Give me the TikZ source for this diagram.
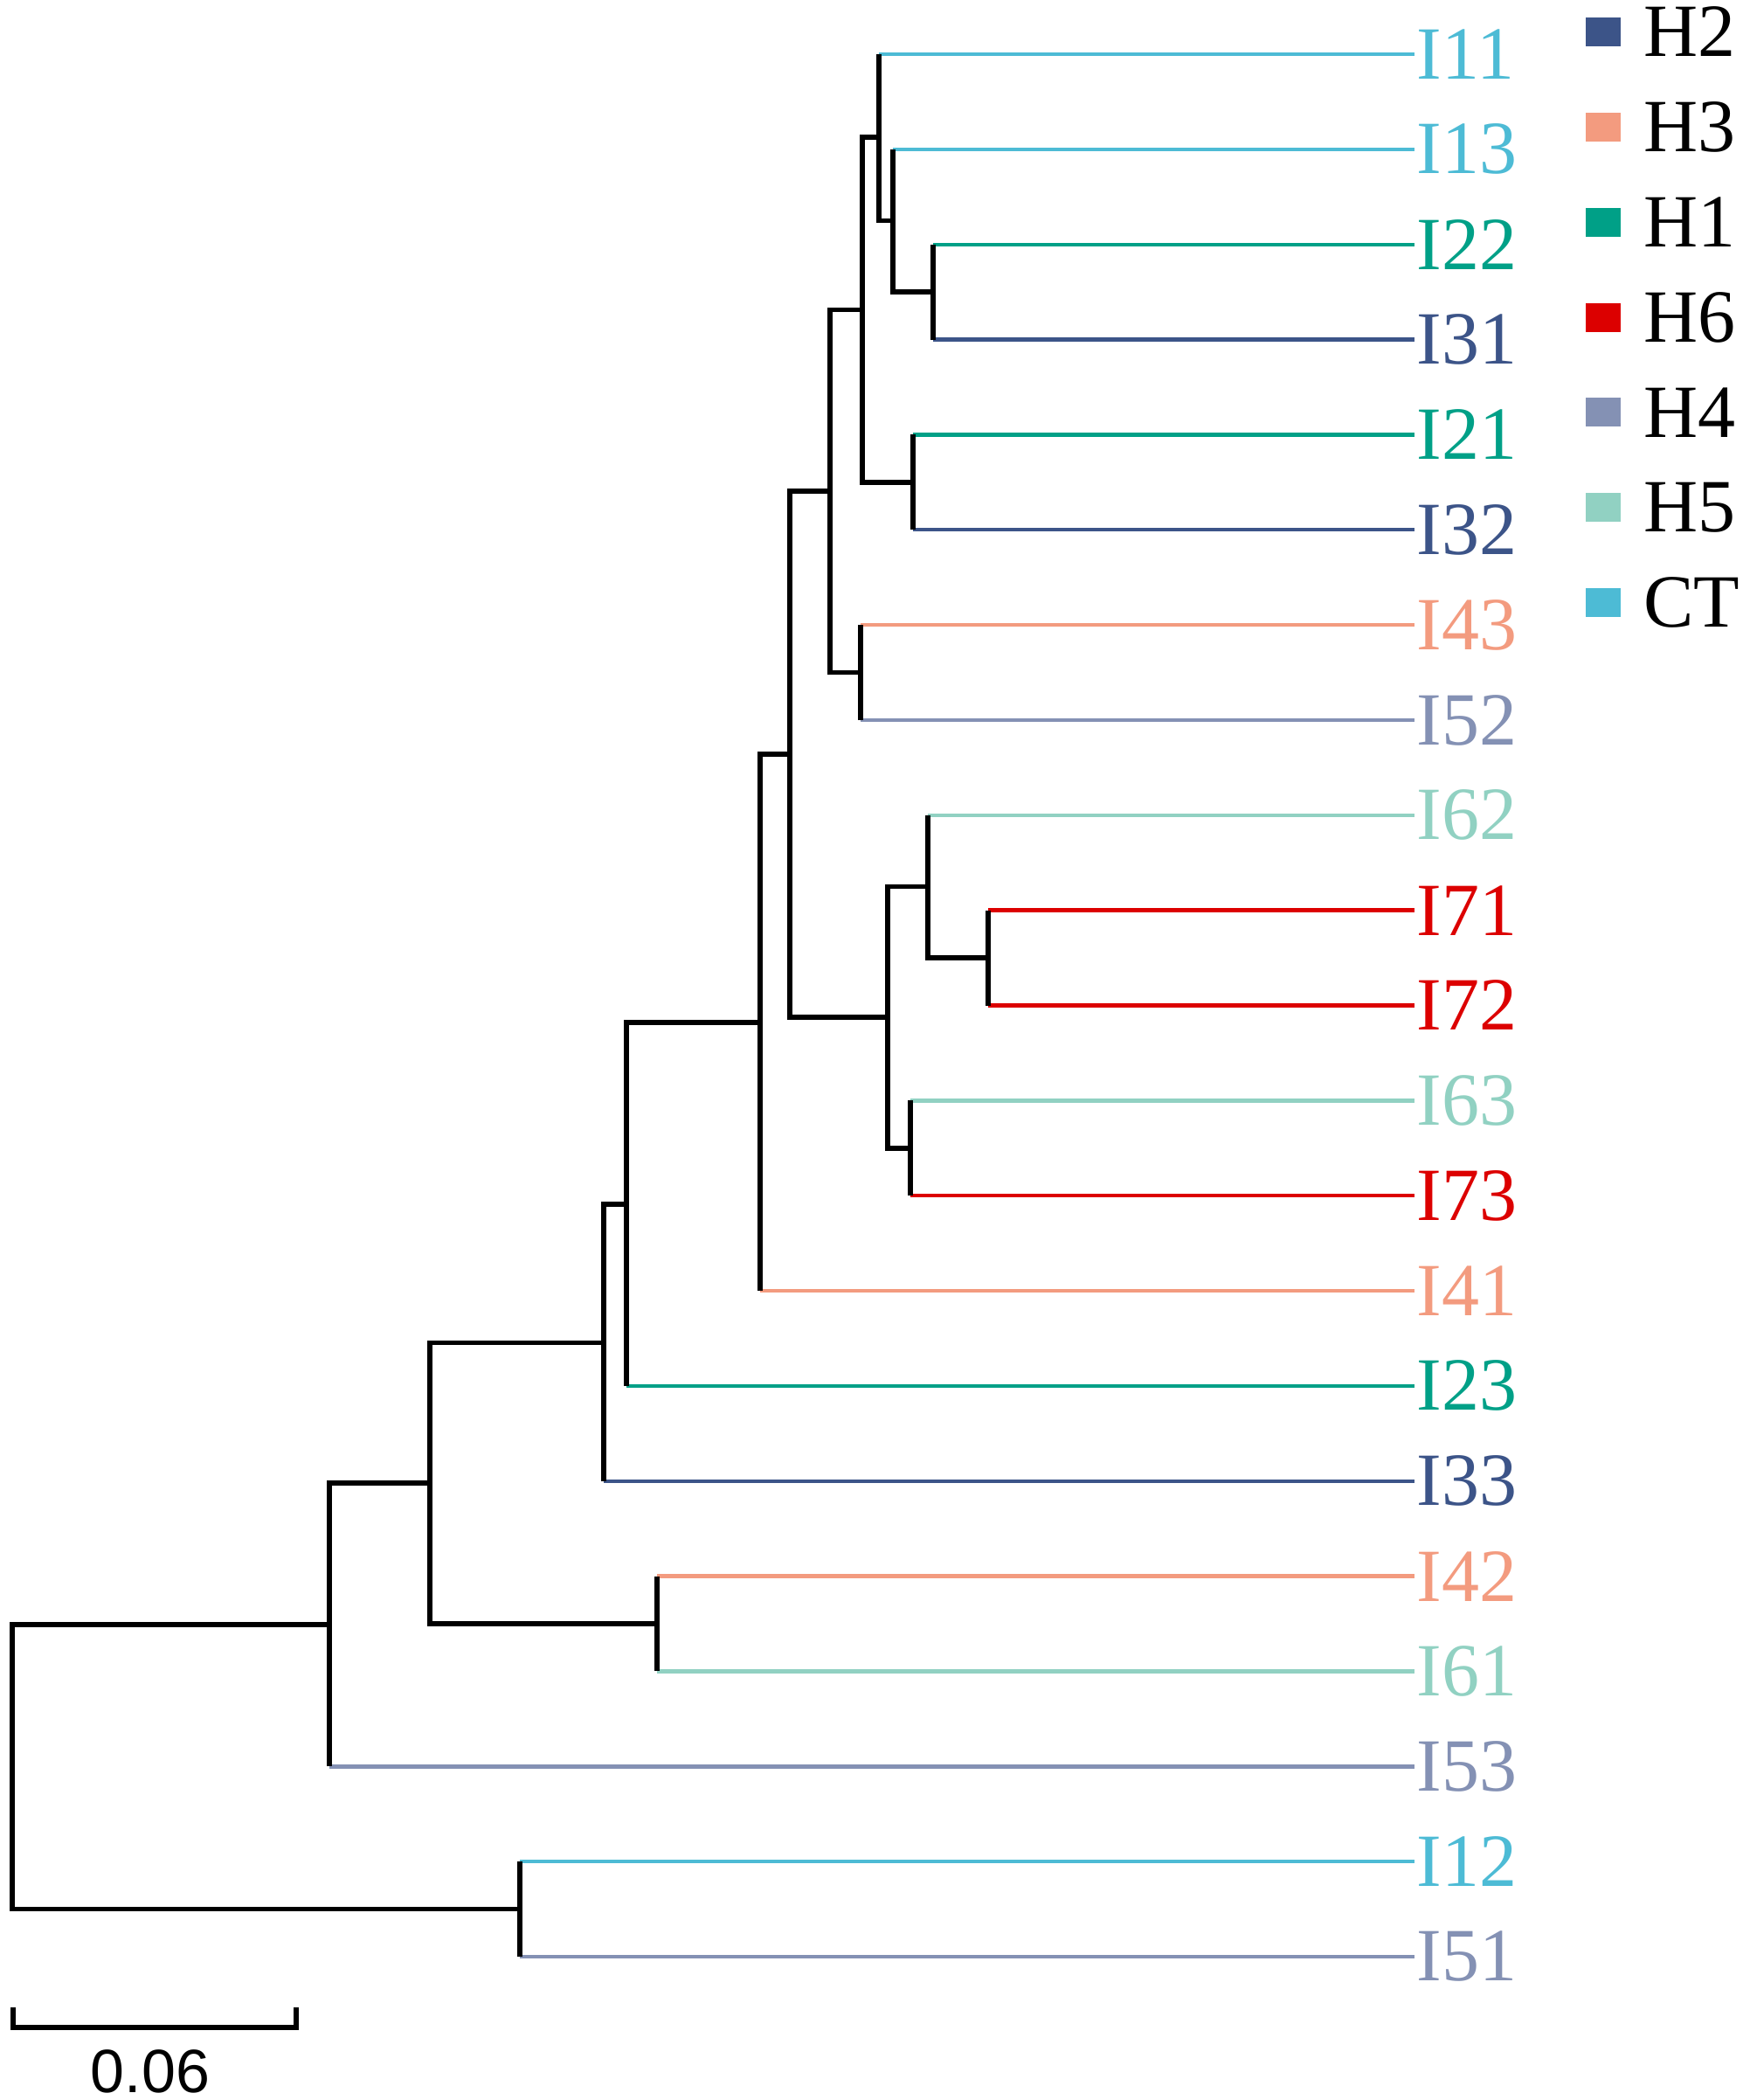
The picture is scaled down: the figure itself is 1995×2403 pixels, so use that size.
\documentclass[tikz,border=0pt]{standalone}
\usepackage{fontspec}
\setmainfont{Liberation Serif}
\newfontfamily\barfont{Liberation Sans}
\usetikzlibrary{positioning}

\definecolor{colH1}{HTML}{00A087}
\definecolor{colH2}{HTML}{3C5488}
\definecolor{colH3}{HTML}{F39B7F}
\definecolor{colH4}{HTML}{8491B4}
\definecolor{colH5}{HTML}{91D1C2}
\definecolor{colH6}{HTML}{DC0000}
\definecolor{colCT}{HTML}{4DBBD5}

\tikzset{every picture/.style={line width=1.4pt},
  tree/.style={draw=black,line width=1.4pt},
  branch/.style={line width=1.1pt},
  leaf/.style={anchor=west,inner sep=0pt,font=\fontsize{21.5pt}{21.5pt}\selectfont},
  keybox/.style={minimum width=10pt,minimum height=8.25pt,inner sep=0pt},
  keytext/.style={anchor=west,inner sep=0pt,font=\fontsize{21.5pt}{21.5pt}\selectfont}}

\begin{document}
\begin{tikzpicture}[x=0.25pt,y=0.25pt,yscale=-1,xscale=1]
\useasboundingbox (0,0) rectangle (1995,2403);

%Leaf labels
\foreach \name/\col [count=\i from 0] in {I11/colCT,I13/colCT,I22/colH1,I31/colH2,I21/colH1,I32/colH2,I43/colH3,I52/colH4,I62/colH5,I71/colH6,I72/colH6,I63/colH5,I73/colH6,I41/colH3,I23/colH1,I33/colH2,I42/colH3,I61/colH5,I53/colH4,I12/colCT,I51/colH4}
  \node[leaf,text=\col] (\name) at (1619,{62+108.85*\i}) {\name};

%Inner nodes
\coordinate (n1) at (1068,334.13);
\coordinate (n2) at (1022,252.49);
\coordinate (n3) at (1006,157.24);
\coordinate (n4) at (1045,551.83);
\coordinate (n5) at (987,354.53);
\coordinate (n6) at (985,769.53);
\coordinate (n7) at (950,562.03);
\coordinate (n8) at (1131,1096.08);
\coordinate (n9) at (1062,1014.44);
\coordinate (n10) at (1042,1313.78);
\coordinate (n11) at (1016,1164.11);
\coordinate (n12) at (904,863.07);
\coordinate (n13) at (870,1170.06);
\coordinate (n14) at (717,1377.98);
\coordinate (n15) at (691,1536.37);
\coordinate (n16) at (752,1858.03);
\coordinate (n17) at (492,1697.2);
\coordinate (n18) at (377,1859.25);
\coordinate (n19) at (595,2184.58);
\coordinate (root) at (14,2021.92);

%Coloured terminal branches
\foreach \leaf/\up/\col in {I11/n3/colCT,I13/n2/colCT,I22/n1/colH1,I31/n1/colH2,I21/n4/colH1,I32/n4/colH2,I43/n6/colH3,I52/n6/colH4,I62/n9/colH5,I71/n8/colH6,I72/n8/colH6,I63/n10/colH5,I73/n10/colH6,I41/n13/colH3,I23/n14/colH1,I33/n15/colH2,I42/n16/colH3,I61/n16/colH5,I53/n18/colH4,I12/n19/colCT,I51/n19/colH4}
  \draw[branch,\col] (\up |- \leaf.west) -- (\leaf.west);

%Black inner branches
\draw[tree] (n1 |- I22.west) -- (n1 |- I31.west);
\draw[tree] (n2 |- I13.west) |- (n1);
\draw[tree] (n3 |- I11.west) |- (n2);
\draw[tree] (n4 |- I21.west) -- (n4 |- I32.west);
\draw[tree] (n3) -| (n5) |- (n4);
\draw[tree] (n6 |- I43.west) -- (n6 |- I52.west);
\draw[tree] (n5) -| (n7) |- (n6);
\draw[tree] (n8 |- I71.west) -- (n8 |- I72.west);
\draw[tree] (n9 |- I62.west) |- (n8);
\draw[tree] (n10 |- I63.west) -- (n10 |- I73.west);
\draw[tree] (n9) -| (n11) |- (n10);
\draw[tree] (n7) -| (n12) |- (n11);
\draw[tree] (n12) -| (n13 |- I41.west);
\draw[tree] (n13) -| (n14 |- I23.west);
\draw[tree] (n14) -| (n15 |- I33.west);
\draw[tree] (n16 |- I42.west) -- (n16 |- I61.west);
\draw[tree] (n15) -| (n17) |- (n16);
\draw[tree] (n17) -| (n18 |- I53.west);
\draw[tree] (n19 |- I12.west) -- (n19 |- I51.west);
\draw[tree] (n18) -| (root) |- (n19);

%Legend
\foreach \name/\col [count=\j from 0] in {H2/colH2,H3/colH3,H1/colH1,H6/colH6,H4/colH4,H5/colH5,CT/colCT}{
  \node[keybox,fill=\col] (k\name) at (1835,{36.5+108.85*\j}) {};
  \node[keytext,right=5.25pt of k\name] (t\name) {\name};
}

%Scale bar
\coordinate (sbl) at (15,2297);
\coordinate (sbr) at (339,2297);
\draw[tree] (sbl) -- ++(0,23) -| (sbr);
\node[inner sep=0pt,font=\barfont\fontsize{17.5pt}{17.5pt}\selectfont] (sbtext) at (172,2370) {0.06};

\end{tikzpicture}
\end{document}
